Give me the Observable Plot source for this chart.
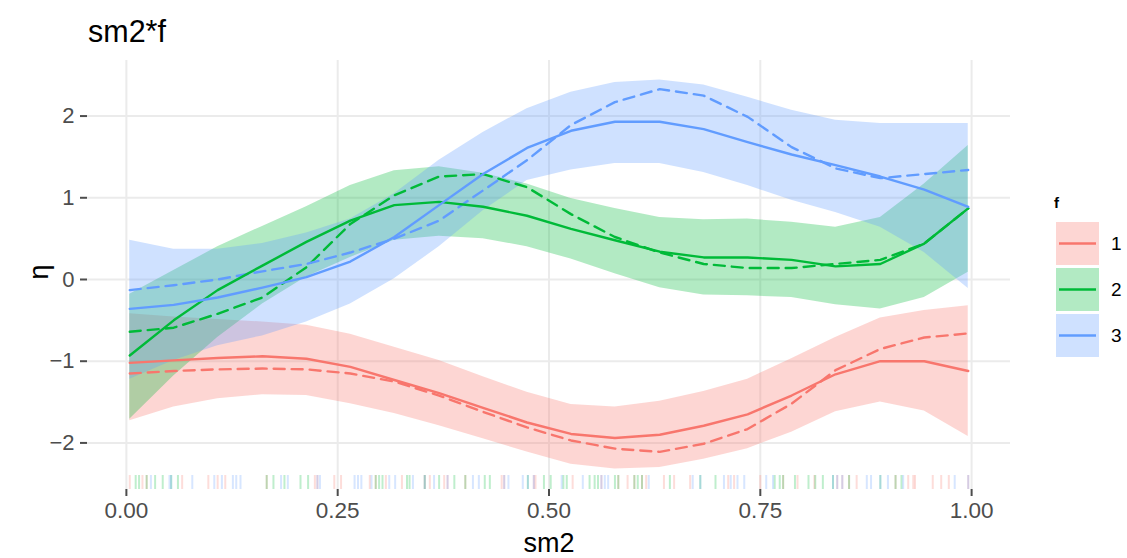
<!DOCTYPE html>
<html><head><meta charset="utf-8">
<script src="https://cdn.jsdelivr.net/npm/d3@7"></script>
<script src="https://cdn.jsdelivr.net/npm/@observablehq/plot@0.6"></script>
<style>
body{margin:0;background:#fff;font-family:"Liberation Sans",Arial,sans-serif;}
#wrap{position:relative;width:1127px;height:558px;overflow:hidden;background:#fff}
#chart, #overlay{position:absolute;left:0;top:0}
</style></head><body>
<div id="wrap"><div id="chart"></div><div id="overlay"></div></div>
<script>
// ---- data ----
const groups = ["1", "2", "3"];
const colors = ["#F8766D", "#00BA38", "#619CFF"];
const xTicks = [0, 0.25, 0.5, 0.75, 1];
const yTicks = [-2, -1, 0, 1, 2];

const sm2 = [0.004, 0.056, 0.108, 0.161, 0.213, 0.265, 0.317, 0.370, 0.422, 0.474,
             0.526, 0.578, 0.631, 0.683, 0.735, 0.787, 0.839, 0.892, 0.944, 0.996];

const fit1  = [-1.02, -0.99, -0.96, -0.94, -0.97, -1.07, -1.23, -1.39, -1.57, -1.75, -1.89, -1.94, -1.90, -1.79, -1.65, -1.42, -1.16, -1.00, -1.00, -1.12];
const true1 = [-1.15, -1.12, -1.10, -1.09, -1.10, -1.15, -1.25, -1.42, -1.62, -1.81, -1.97, -2.07, -2.11, -2.01, -1.83, -1.52, -1.11, -0.85, -0.71, -0.66];
const hi1   = [-0.42, -0.46, -0.49, -0.52, -0.56, -0.67, -0.83, -0.99, -1.19, -1.38, -1.53, -1.56, -1.49, -1.37, -1.22, -0.97, -0.71, -0.47, -0.38, -0.32];
const lo1   = [-1.73, -1.56, -1.46, -1.41, -1.42, -1.52, -1.64, -1.79, -1.95, -2.11, -2.26, -2.32, -2.30, -2.20, -2.07, -1.87, -1.62, -1.50, -1.61, -1.92];

const fit2  = [-0.93, -0.50, -0.13, 0.17, 0.46, 0.72, 0.91, 0.95, 0.89, 0.78, 0.62, 0.48, 0.34, 0.27, 0.27, 0.24, 0.16, 0.19, 0.44, 0.87];
const true2 = [-0.64, -0.59, -0.42, -0.22, 0.15, 0.68, 1.03, 1.26, 1.29, 1.13, 0.80, 0.52, 0.33, 0.19, 0.14, 0.14, 0.19, 0.24, 0.44, 0.87];
const hi2   = [-0.18, 0.11, 0.40, 0.65, 0.89, 1.15, 1.33, 1.38, 1.30, 1.17, 0.99, 0.87, 0.76, 0.73, 0.74, 0.70, 0.64, 0.76, 1.17, 1.64];
const lo2   = [-1.71, -1.18, -0.71, -0.30, 0.03, 0.27, 0.48, 0.53, 0.50, 0.40, 0.25, 0.07, -0.10, -0.19, -0.20, -0.22, -0.31, -0.36, -0.22, 0.09];

const fit3  = [-0.36, -0.31, -0.22, -0.10, 0.03, 0.22, 0.52, 0.91, 1.29, 1.61, 1.82, 1.93, 1.93, 1.84, 1.68, 1.53, 1.40, 1.26, 1.10, 0.89];
const true3 = [-0.13, -0.07, 0.00, 0.10, 0.19, 0.33, 0.50, 0.72, 1.09, 1.46, 1.89, 2.17, 2.33, 2.25, 1.99, 1.62, 1.36, 1.24, 1.29, 1.34];
const hi3   = [0.48, 0.37, 0.37, 0.44, 0.57, 0.74, 1.05, 1.46, 1.80, 2.09, 2.29, 2.41, 2.44, 2.38, 2.23, 2.07, 1.95, 1.91, 1.91, 1.91];
const lo3   = [-1.22, -0.99, -0.81, -0.69, -0.52, -0.30, 0.01, 0.40, 0.84, 1.21, 1.34, 1.42, 1.42, 1.31, 1.15, 0.97, 0.82, 0.64, 0.33, -0.11];

const rug1 = [0.004, 0.019, 0.024, 0.066, 0.097, 0.108, 0.117, 0.166, 0.223, 0.226, 0.246, 0.254, 0.288, 0.295, 0.307, 0.326, 0.353, 0.359, 0.376, 0.380, 0.401, 0.444, 0.447, 0.482, 0.484, 0.528, 0.562, 0.582, 0.593, 0.601, 0.610, 0.615, 0.636, 0.648, 0.667, 0.712, 0.719, 0.750, 0.777, 0.794, 0.814, 0.841, 0.847, 0.855, 0.864, 0.910, 0.925, 0.931, 0.933, 0.954, 0.964, 0.973, 0.996];
const rug2 = [0.011, 0.015, 0.024, 0.034, 0.043, 0.053, 0.061, 0.166, 0.174, 0.187, 0.206, 0.215, 0.295, 0.299, 0.303, 0.332, 0.335, 0.353, 0.370, 0.388, 0.401, 0.424, 0.430, 0.475, 0.494, 0.502, 0.517, 0.521, 0.548, 0.554, 0.558, 0.578, 0.582, 0.601, 0.605, 0.610, 0.643, 0.679, 0.697, 0.767, 0.773, 0.777, 0.791, 0.807, 0.815, 0.824, 0.836, 0.855, 0.892, 0.910, 0.917];
const rug3 = [0.029, 0.051, 0.053, 0.078, 0.104, 0.113, 0.126, 0.130, 0.135, 0.183, 0.191, 0.226, 0.229, 0.270, 0.274, 0.278, 0.290, 0.311, 0.318, 0.339, 0.353, 0.364, 0.380, 0.410, 0.417, 0.447, 0.452, 0.469, 0.475, 0.482, 0.515, 0.540, 0.562, 0.566, 0.570, 0.618, 0.670, 0.679, 0.707, 0.715, 0.723, 0.731, 0.757, 0.765, 0.836, 0.841, 0.847, 0.876, 0.881, 0.892, 0.901, 0.919, 0.980, 0.996];

// ---- tables ----
const fits = [fit1, fit2, fit3], trues = [true1, true2, true3], his = [hi1, hi2, hi3], los = [lo1, lo2, lo3];
const table = [];
groups.forEach((g, gi) => sm2.forEach((x, i) => table.push({f: g, sm2: x, fit: fits[gi][i], tru: trues[gi][i], lo: los[gi][i], hi: his[gi][i]})));
const rug = [];
[rug1, rug2, rug3].forEach((arr, gi) => arr.forEach(x => rug.push({f: groups[gi], sm2: x})));

const font = "Liberation Sans, Arial, Helvetica, sans-serif";
const W = 1127, H = 558, mL = 87, mR = 117, mT = 60, mB = 69;

const chart = Plot.plot({
  width: W, height: H, marginLeft: mL, marginRight: mR, marginTop: mT, marginBottom: mB,
  x: {domain: [-0.046, 1.046]},
  y: {domain: [-2.57, 2.68]},
  color: {domain: groups, range: colors},
  style: {fontFamily: font, background: "white"},
  marks: [
    Plot.gridX(xTicks, {stroke: "#ebebeb", strokeOpacity: 1, strokeWidth: 2}),
    Plot.gridY(yTicks, {stroke: "#ebebeb", strokeOpacity: 1, strokeWidth: 2}),
    Plot.areaY(table, {x: "sm2", y1: "lo", y2: "hi", fill: "f", fillOpacity: 0.3}),
    Plot.line(table, {x: "sm2", y: "tru", stroke: "f", strokeWidth: 2.4, strokeDasharray: "11,7"}),
    Plot.line(table, {x: "sm2", y: "fit", stroke: "f", strokeWidth: 2.4}),
    Plot.ruleX(rug, {x: "sm2", stroke: "f", strokeOpacity: 0.25, strokeWidth: 2, insetTop: H - mT - mB - 14}),
    Plot.axisX(xTicks, {tickFormat: d => d.toFixed(2), tickSize: 7, tickPadding: 6, fontSize: 22.5, color: "#4d4d4d", strokeWidth: 2, label: null}),
    Plot.axisY(yTicks, {tickFormat: d => d < 0 ? "\u2212" + Math.abs(d) : String(d), tickSize: 7, tickPadding: 6, fontSize: 22, color: "#4d4d4d", strokeWidth: 2, label: null})
  ]
});
document.getElementById("chart").appendChild(chart);

// ---- overlay: title, axis titles, legend ----
const ov = d3.select("#overlay").append("svg").attr("width", W).attr("height", H)
  .style("font-family", font);
ov.append("text").attr("x", 88).attr("y", 41.5).attr("font-size", 30.5).attr("fill", "#000").text("sm2*f");
ov.append("text").attr("x", 549).attr("y", 552).attr("text-anchor", "middle").attr("font-size", 27).attr("fill", "#000").text("sm2");
ov.append("text").attr("transform", "translate(48,272) rotate(-90)").attr("text-anchor", "middle").attr("font-size", 27).attr("fill", "#000").text("η");

const lg = ov.append("g");
lg.append("text").attr("x", 1054).attr("y", 208).attr("font-size", 15).attr("font-weight", "bold").text("f");
groups.forEach((g, i) => {
  const y0 = 222 + i * 46;
  lg.append("rect").attr("x", 1056).attr("y", y0).attr("width", 43).attr("height", 43).attr("fill", colors[i]).attr("fill-opacity", 0.3);
  lg.append("line").attr("x1", 1059).attr("x2", 1096).attr("y1", y0 + 21.5).attr("y2", y0 + 21.5).attr("stroke", colors[i]).attr("stroke-width", 2.7);
  lg.append("text").attr("x", 1111).attr("y", y0 + 21.5).attr("dy", "0.36em").attr("font-size", 19).attr("fill", "#000").text(g);
});
</script>
</body></html>
